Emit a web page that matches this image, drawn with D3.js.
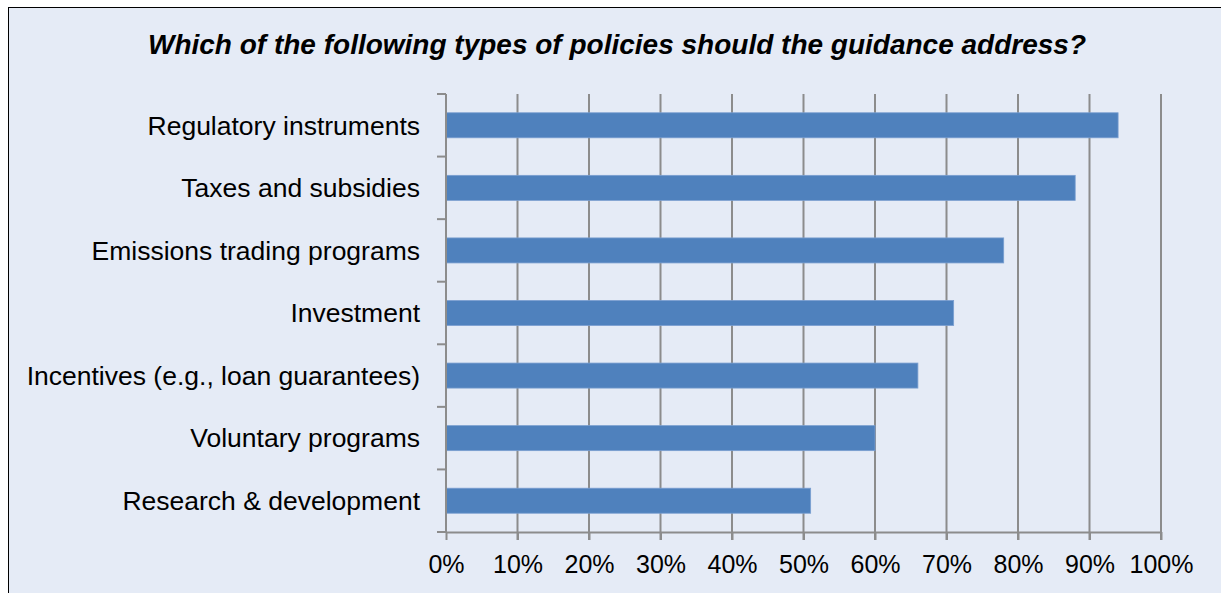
<!DOCTYPE html>
<html>
<head>
<meta charset="utf-8">
<script src="https://cdn.jsdelivr.net/npm/d3@7"></script>
<style>
  body { margin: 0; background: #fff; }
  text { font-family: "Liberation Sans", Arial, sans-serif; fill: #000; }
</style>
</head>
<body>
<div id="chart"></div>
<script>
// Data
const categories = [
  "Regulatory instruments",
  "Taxes and subsidies",
  "Emissions trading programs",
  "Investment",
  "Incentives (e.g., loan guarantees)",
  "Voluntary programs",
  "Research & development"
];
const values = [0.94, 0.88, 0.78, 0.71, 0.66, 0.60, 0.51];
const xTicks = [0, 0.1, 0.2, 0.3, 0.4, 0.5, 0.6, 0.7, 0.8, 0.9, 1.0];
const title = "Which of the following types of policies should the guidance address?";

const W = 1221, H = 593;
const plot = {left: 446, right: 1161, top: 94, bottom: 532};

const svg = d3.select("#chart").append("svg")
  .attr("width", W)
  .attr("height", H);

// background + border
svg.append("rect")
  .attr("x", 8.5).attr("y", 7.5)
  .attr("width", W + 10).attr("height", H + 10)
  .attr("fill", "#e5ebf6")
  .attr("stroke", "#000")
  .attr("stroke-width", 1);

svg.append("text")
  .attr("x", 617)
  .attr("y", 54)
  .attr("text-anchor", "middle")
  .style("font-size", "28px")
  .style("font-weight", "bold")
  .style("font-style", "italic")
  .text(title);

// Scales
const xScale = d3.scaleLinear()
  .domain([0, 1])
  .range([plot.left, plot.right]);

const yScale = d3.scaleBand()
  .domain(categories)
  .range([plot.top, plot.bottom])
  .paddingInner(0.6)
  .paddingOuter(0.3);

const g = svg.append("g");

// gridlines
g.selectAll(".grid")
  .data(xTicks.slice(1))
.enter().append("line")
  .attr("class", "grid")
  .attr("x1", d => xScale(d)).attr("x2", d => xScale(d))
  .attr("y1", plot.top).attr("y2", plot.bottom + 8)
  .attr("stroke", "#8c8c8c")
  .attr("stroke-width", 2);

// bars
g.selectAll(".bar")
  .data(categories)
.enter().append("rect")
  .attr("class", "bar")
  .attr("x", plot.left)
  .attr("y", d => yScale(d))
  .attr("width", (d, i) => xScale(values[i]) - plot.left)
  .attr("height", yScale.bandwidth())
  .attr("fill", "#4f81bd")
  .attr("stroke", "#7a9fd0")
  .attr("stroke-width", 0.8);

// x axis
const xAxis = d3.axisBottom(xScale)
  .tickValues(xTicks)
  .tickFormat(d3.format(".0%"))
  .tickSize(8)
  .tickSizeOuter(0)
  .tickPadding(15);

const xg = svg.append("g")
  .attr("transform", `translate(0,${plot.bottom})`)
  .call(xAxis);
xg.select(".domain").attr("stroke", "#8c8c8c").attr("stroke-width", 2);
xg.selectAll(".tick line").attr("stroke", "#8c8c8c").attr("stroke-width", 2);
xg.selectAll(".tick text")
  .style("font-size", "25px")
  .attr("font-family", "Liberation Sans, Arial, sans-serif");

// y axis: ticks at category boundaries
const step = yScale.step();
const boundaries = d3.range(categories.length + 1).map(i => plot.top + i * step);

const yg = svg.append("g");
yg.append("line")
  .attr("x1", plot.left).attr("x2", plot.left)
  .attr("y1", plot.top).attr("y2", plot.bottom)
  .attr("stroke", "#8c8c8c").attr("stroke-width", 2);
yg.selectAll(".ytick")
  .data(boundaries)
.enter().append("line")
  .attr("class", "ytick")
  .attr("x1", plot.left - 9).attr("x2", plot.left)
  .attr("y1", d => d).attr("y2", d => d)
  .attr("stroke", "#8c8c8c").attr("stroke-width", 2);

yg.selectAll(".ylabel")
  .data(categories)
.enter().append("text")
  .attr("class", "ylabel")
  .attr("x", 420)
  .attr("y", d => yScale(d) + yScale.bandwidth() / 2)
  .attr("dy", "0.35em")
  .attr("text-anchor", "end")
  .style("font-size", "26.5px")
  .text(d => d);
</script>
</body>
</html>
